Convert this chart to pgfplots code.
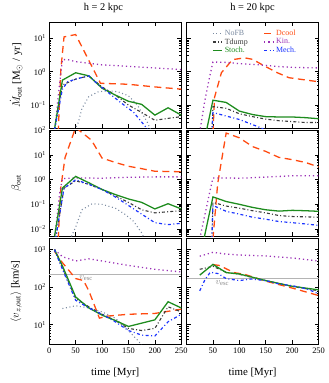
\documentclass[border=0pt]{standalone}
\usepackage{fontspec}
\setmainfont{Liberation Serif}
\usepackage{pgfplots}
\pgfplotsset{compat=1.18}
\usepgfplotslibrary{groupplots}

\definecolor{cnofb}{HTML}{7A8AA0}
\definecolor{ctdump}{HTML}{3A3A3A}
\definecolor{cstoch}{HTML}{1E8C1E}
\definecolor{cdcool}{HTML}{FF4A10}
\definecolor{ckin}{HTML}{9A2FB5}
\definecolor{cmech}{HTML}{1A33FF}
\definecolor{cesc}{HTML}{B4B4B4}
\definecolor{cesctext}{HTML}{888888}

\pgfplotsset{
  s-nofb/.style={color=cnofb, line width=1.1pt, dash pattern=on 1pt off 2.6pt},
  s-tdump/.style={color=ctdump, line width=1.1pt, dash pattern=on 3pt off 2.2pt on 1pt off 2.2pt},
  s-stoch/.style={color=cstoch, line width=1.3pt},
  s-dcool/.style={color=cdcool, line width=1.3pt, dash pattern=on 7pt off 4.5pt},
  s-kin/.style={color=ckin, line width=1.3pt, dash pattern=on 1.2pt off 3pt},
  s-mech/.style={color=cmech, line width=1.2pt, dash pattern=on 3pt off 2.5pt on 1pt off 2.5pt},
  logexp/.style={yticklabel={\pgfmathtruncatemacro{\ex}{round(\tick)}10\textsuperscript{\ifnum\ex<0 −\number\numexpr-\ex\relax\else\ex\fi}}},
  nolab/.style={yticklabel={}, yticklabels={}, yticklabel style={opacity=0}},
}

\begin{document}
\begin{tikzpicture}
\begin{groupplot}[
  group style={group size=2 by 3, horizontal sep=5.3pt, vertical sep=2pt, group name=g},
  width=133.3pt, height=107pt, scale only axis,
  xmin=0, xmax=250, ymode=log, log basis y=10,
  axis line style={line width=1.1pt},
  tick style={black, line width=0.6pt},
  major tick length=4pt, minor tick length=2pt,
  xtick={0,50,100,150,200,250}, xticklabels={},
  tick label style={font=\fontsize{8.5}{9}\selectfont},
  label style={font=\fontsize{11}{12}\selectfont},
  title style={font=\fontsize{10.5}{12}\selectfont, anchor=base, yshift=6pt},
  ylabel style={at={(axis description cs:-0.25,0.5)}, anchor=center},
  xlabel style={at={(axis description cs:0.5,-0.27)}, anchor=center},
]
% ---------- Mdot, h = 2 kpc
\nextgroupplot[ymin=0.02, ymax=30, logexp,
  title={h = 2 kpc}, title style={at={(axis description cs:0.41,1)}},
  ylabel={$\dot{M}_{\mathrm{out}}$ [M$_\odot$ / yr]}]
\addplot[s-nofb] coordinates {(48,0.018) (55,0.03) (62,0.08) (75,0.18) (93,0.25) (112,0.27) (130,0.25) (150,0.19) (167,0.1) (186,0.03) (195,0.014)};
\addplot[s-dcool] coordinates {(17,0.015) (22,1.2) (28,11) (50,13) (97,0.45) (150,0.42) (200,0.35) (250,0.3)};
\addplot[s-kin] coordinates {(10,0.015) (20,0.5) (25,2.3) (35,2.3) (50,2.0) (100,1.6) (150,1.45) (200,1.3) (250,1.15)};
\addplot[s-tdump] coordinates {(10,0.018) (25,0.4) (50,0.6) (75,0.75) (100,0.35) (125,0.2) (150,0.1) (175,0.06) (200,0.035) (225,0.04) (250,0.045)};
\addplot[s-stoch] coordinates {(10,0.019) (25,0.56) (50,0.93) (75,0.75) (100,0.32) (125,0.2) (150,0.13) (175,0.105) (200,0.05) (225,0.083) (250,0.05)};
\addplot[s-mech] coordinates {(10,0.018) (25,0.3) (35,0.5) (50,0.6) (75,0.75) (90,0.45) (110,0.25) (135,0.12) (160,0.06) (185,0.02) (195,0.012)};
% ---------- Mdot, h = 20 kpc
\nextgroupplot[ymin=0.02, ymax=30, nolab,
  title={h = 20 kpc}, title style={at={(axis description cs:0.5,1)}},
  legend columns=2, legend cell align=left,
  legend style={at={(axis description cs:0.52,0.97)}, anchor=north, draw=none, fill=none,
    font=\fontsize{8}{8}\selectfont, row sep=-2.2pt,
    /tikz/every even column/.append style={column sep=14pt}},
  legend image code/.code={\draw[#1] (0cm,0cm) -- (0.33cm,0cm);}]
\addlegendimage{s-nofb}\addlegendentry{\textcolor{cnofb}{NoFB}}
\addlegendimage{s-dcool}\addlegendentry{\textcolor{cdcool}{Dcool}}
\addlegendimage{s-tdump}\addlegendentry{\textcolor{ctdump}{Tdump}}
\addlegendimage{s-kin}\addlegendentry{\textcolor{ckin}{Kin.}}
\addlegendimage{s-stoch}\addlegendentry{\textcolor{cstoch}{Stoch.}}
\addlegendimage{s-mech}\addlegendentry{\textcolor{cmech}{Mech.}}
\addplot[s-dcool, forget plot] coordinates {(50,0.015) (53,0.17) (66,0.93) (87,2.3) (110,2.6) (125,2.35) (147,1.5) (172,0.93) (194,0.66) (250,0.5)};
\addplot[s-kin, forget plot] coordinates {(25,0.015) (34,0.12) (44,0.74) (50,1.95) (75,1.9) (100,1.75) (125,1.65) (150,1.55) (175,1.42) (200,1.35) (225,1.32) (250,1.3)};
\addplot[s-tdump, forget plot] coordinates {(48,0.015) (50,0.09) (75,0.08) (100,0.055) (125,0.045) (150,0.038) (175,0.034) (200,0.032) (225,0.03) (250,0.03)};
\addplot[s-stoch, forget plot] coordinates {(37,0.015) (50,0.14) (75,0.12) (100,0.066) (125,0.052) (150,0.045) (175,0.044) (200,0.044) (225,0.042) (250,0.039)};
\addplot[s-mech, forget plot] coordinates {(48,0.015) (50,0.06) (75,0.047) (100,0.037) (125,0.026) (140,0.021) (155,0.016)};
% ---------- beta, h = 2 kpc
\nextgroupplot[ymin=0.005, ymax=100, logexp, ylabel={$\beta_{\mathrm{out}}$}]
\addplot[s-nofb] coordinates {(42,0.005) (50,0.012) (62,0.06) (81,0.105) (100,0.1) (125,0.07) (143,0.04) (160,0.02) (175,0.007) (180,0.004)};
\addplot[s-dcool] coordinates {(17,0.004) (22,0.5) (30,8) (50,130) (80,40) (100,7.5) (125,5) (150,3.5) (175,2.8) (200,2.2) (250,2.1)};
\addplot[s-kin] coordinates {(10,0.004) (20,0.3) (25,1.1) (50,1.17) (100,1.15) (150,1.25) (200,1.3) (250,1.3)};
\addplot[s-tdump] coordinates {(12,0.004) (28,0.45) (50,0.9) (75,0.65) (100,0.4) (125,0.22) (150,0.12) (175,0.06) (200,0.045) (225,0.05) (250,0.055)};
\addplot[s-stoch] coordinates {(10,0.005) (25,0.46) (50,1.36) (75,0.75) (100,0.4) (125,0.25) (150,0.165) (175,0.12) (200,0.065) (225,0.106) (250,0.065)};
\addplot[s-mech] coordinates {(12,0.004) (28,0.45) (50,1.0) (75,0.65) (100,0.4) (125,0.2) (150,0.09) (175,0.04) (200,0.018) (225,0.015) (250,0.017)};
% ---------- beta, h = 20 kpc
\nextgroupplot[ymin=0.005, ymax=100, nolab]
\addplot[s-dcool] coordinates {(50,0.004) (59,0.7) (75,78) (100,50) (125,22) (150,14) (175,8) (200,6.5) (225,5) (250,3.3)};
\addplot[s-kin] coordinates {(25,0.004) (35,0.04) (45,0.4) (50,1.17) (75,1.17) (100,1.15) (125,1.2) (150,1.28) (175,1.35) (200,1.45) (250,1.45)};
\addplot[s-tdump] coordinates {(48,0.004) (50,0.12) (75,0.085) (100,0.07) (125,0.055) (150,0.045) (175,0.035) (200,0.032) (225,0.031) (250,0.03)};
\addplot[s-stoch] coordinates {(33,0.004) (50,0.2) (75,0.13) (100,0.1) (125,0.075) (150,0.06) (175,0.053) (200,0.057) (225,0.055) (250,0.052)};
\addplot[s-mech] coordinates {(48,0.004) (50,0.09) (75,0.052) (100,0.04) (125,0.03) (150,0.025) (175,0.02) (200,0.018) (225,0.016) (250,0.014)};
% ---------- v_z, h = 2 kpc
\nextgroupplot[ymin=3, ymax=2000, logexp,
  xticklabels={0,50,100,150,200,250}, xlabel={time [Myr]},
  ylabel={$\langle v_{z,\mathrm{out}}\rangle$ [km/s]}]
\addplot[cesc, line width=0.8pt] coordinates {(0,222) (250,222)};
\node[anchor=north west, text=cesctext, font=\fontsize{9.5}{9}\selectfont, inner sep=1pt] at (axis cs:55,212) {$v_{\mathrm{esc}}$};
\addplot[s-nofb] coordinates {(25,27) (50,32) (75,28) (100,22) (125,15) (150,7) (170,3.5) (178,2.5)};
\addplot[s-dcool] coordinates {(10,900) (25,450) (50,170) (65,150) (75,80) (95,15) (110,17) (150,19) (200,20) (250,26)};
\addplot[s-kin] coordinates {(10,1000) (25,650) (50,500) (75,570) (100,500) (150,380) (200,300) (250,255)};
\addplot[s-tdump] coordinates {(10,1000) (25,330) (50,50) (75,30) (100,19) (125,13) (150,8) (175,7) (200,8) (225,30) (250,22)};
\addplot[s-stoch] coordinates {(10,1000) (25,370) (50,55) (75,28) (100,18) (125,13) (150,9) (200,13.5) (225,41) (250,28)};
\addplot[s-mech] coordinates {(10,1000) (25,300) (50,45) (75,28) (100,19) (125,12) (150,7) (175,5.3) (200,5) (225,12) (250,19)};
% ---------- v_z, h = 20 kpc
\nextgroupplot[ymin=3, ymax=2000, nolab,
  xticklabels={,50,100,150,200,250}, xlabel={time [Myr]}]
\addplot[cesc, line width=0.8pt] coordinates {(0,172) (250,172)};
\node[anchor=north west, text=cesctext, font=\fontsize{9.5}{9}\selectfont, inner sep=1pt] at (axis cs:53,164) {$v_{\mathrm{esc}}$};
\addplot[s-dcool] coordinates {(50,400) (62,380) (90,245) (110,220) (150,145) (200,95) (250,60)};
\addplot[s-kin] coordinates {(25,670) (50,850) (75,760) (100,720) (150,680) (200,600) (250,500)};
\addplot[s-tdump] coordinates {(25,300) (50,360) (75,250) (100,220) (150,150) (200,105) (250,80)};
\addplot[s-stoch] coordinates {(25,210) (50,405) (75,245) (100,225) (150,150) (200,106) (250,85)};
\addplot[s-mech] coordinates {(25,80) (35,160) (45,250) (60,230) (75,170) (100,150) (122,165) (150,150) (175,122) (200,110) (228,90) (250,67)};
\end{groupplot}
\path (g c1r1.north west) ++(-49.7pt,19pt) coordinate (tl);
\path (g c2r3.south east) ++(10.4pt,-39pt) coordinate (br);
\end{tikzpicture}
\end{document}
